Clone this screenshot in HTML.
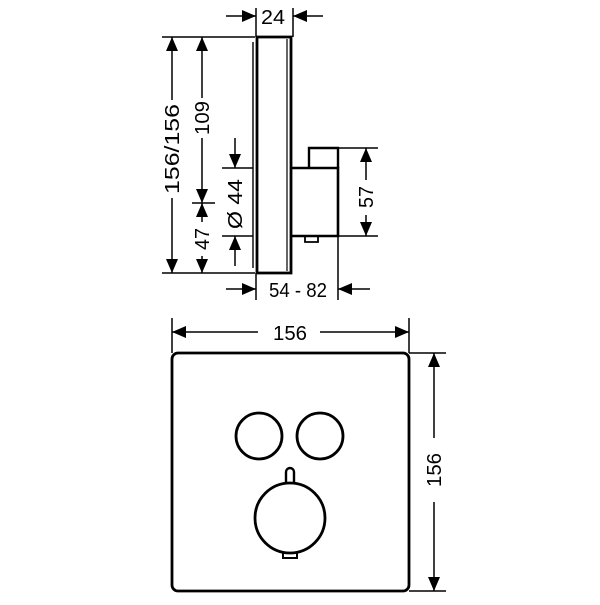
<!DOCTYPE html>
<html><head><style>html,body{margin:0;padding:0;background:#fff}</style></head><body>
<svg width="600" height="600" viewBox="0 0 600 600" xmlns="http://www.w3.org/2000/svg" font-family="Liberation Sans, sans-serif" font-size="20" fill="#000">
<defs>
<marker id="a" viewBox="0 0 14 12" refX="14" refY="6" markerWidth="14" markerHeight="12" markerUnits="userSpaceOnUse" orient="auto"><path d="M0,0L14,6L0,12z" fill="#000"/></marker>
</defs>
<g stroke="#000" fill="none" stroke-width="1.5">
<path d="M257,37 H291 V273 H257 Z" stroke-width="2.8"/>
<line x1="287" y1="39" x2="287" y2="271" stroke-width="1.2"/>
<line x1="253" y1="42" x2="253" y2="268" stroke-width="1.4"/>
<path d="M291,168 H338 V236 H291" stroke-width="2.6"/>
<path d="M309,168 V148 H338 V168" stroke-width="2.4"/>
<path d="M305,236 V242 H318 V236" stroke-width="1.8"/>
<line x1="162" y1="37" x2="255" y2="37"/>
<line x1="162" y1="273" x2="255" y2="273"/>
<line x1="192" y1="203" x2="215" y2="203"/>
<line x1="222" y1="168" x2="253" y2="168"/>
<line x1="222" y1="236" x2="253" y2="236"/>
<line x1="256" y1="8" x2="256" y2="37"/>
<line x1="293" y1="8" x2="293" y2="37"/>
<line x1="338" y1="148" x2="378" y2="148"/>
<line x1="338" y1="236" x2="378" y2="236"/>
<line x1="338" y1="236" x2="338" y2="300"/>
<line x1="256" y1="273" x2="256" y2="300"/>
<line x1="226" y1="16" x2="256" y2="16" marker-end="url(#a)"/>
<line x1="323" y1="16" x2="293" y2="16" marker-end="url(#a)"/>
<line x1="172" y1="100" x2="172" y2="37" marker-end="url(#a)"/>
<line x1="172" y1="198" x2="172" y2="273" marker-end="url(#a)"/>
<line x1="202" y1="98" x2="202" y2="37" marker-end="url(#a)"/>
<line x1="202" y1="138" x2="202" y2="203" marker-end="url(#a)"/>
<line x1="202" y1="222" x2="202" y2="203" marker-end="url(#a)"/>
<line x1="202" y1="256" x2="202" y2="273" marker-end="url(#a)"/>
<line x1="235" y1="138" x2="235" y2="168" marker-end="url(#a)"/>
<line x1="235" y1="266" x2="235" y2="236" marker-end="url(#a)"/>
<line x1="366" y1="180" x2="366" y2="148" marker-end="url(#a)"/>
<line x1="366" y1="215" x2="366" y2="236" marker-end="url(#a)"/>
<line x1="226" y1="289" x2="256" y2="289" marker-end="url(#a)"/>
<line x1="370" y1="289" x2="338" y2="289" marker-end="url(#a)"/>
<rect x="172" y="353" width="237" height="238" rx="6" stroke-width="2.8"/>
<line x1="172" y1="318" x2="172" y2="353"/>
<line x1="409" y1="318" x2="409" y2="353"/>
<line x1="409" y1="353" x2="446" y2="353"/>
<line x1="409" y1="591" x2="446" y2="591"/>
<line x1="258" y1="332" x2="172" y2="332" marker-end="url(#a)"/>
<line x1="320" y1="332" x2="409" y2="332" marker-end="url(#a)"/>
<line x1="434" y1="438" x2="434" y2="353" marker-end="url(#a)"/>
<line x1="434" y1="502" x2="434" y2="591" marker-end="url(#a)"/>
<circle cx="259" cy="436" r="23" stroke-width="2.8"/>
<circle cx="320" cy="436" r="23" stroke-width="2.8"/>
<circle cx="290" cy="518" r="35" stroke-width="2.8"/>
<path d="M286,483 V472 A4,4 0 0 1 294,472 V483" stroke-width="2.4"/>
<path d="M283,552 V558 H297 V552" stroke-width="2"/>
</g>
<g text-anchor="middle">
<text x="273" y="24" textLength="24" lengthAdjust="spacingAndGlyphs">24</text>
<text x="298" y="297" textLength="58" lengthAdjust="spacingAndGlyphs">54 - 82</text>
<text x="290" y="340" textLength="34" lengthAdjust="spacingAndGlyphs">156</text>
<text transform="translate(179,149) rotate(-90)" textLength="90" lengthAdjust="spacingAndGlyphs">156/156</text>
<text transform="translate(209,118) rotate(-90)" textLength="34" lengthAdjust="spacingAndGlyphs">109</text>
<text transform="translate(209,239) rotate(-90)" textLength="22" lengthAdjust="spacingAndGlyphs">47</text>
<text transform="translate(242,204) rotate(-90)" textLength="50" lengthAdjust="spacingAndGlyphs">Ø 44</text>
<text transform="translate(373,197) rotate(-90)" textLength="22" lengthAdjust="spacingAndGlyphs">57</text>
<text transform="translate(441,470) rotate(-90)" textLength="34" lengthAdjust="spacingAndGlyphs">156</text>
</g>
</svg>
</body></html>
